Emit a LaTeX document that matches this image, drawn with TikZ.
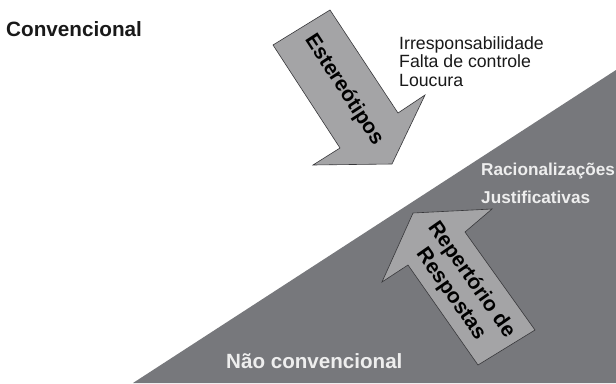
\documentclass[tikz,border=0pt]{standalone}
\usepackage{fontspec}
\setmainfont{Liberation Sans}
\definecolor{darkregion}{RGB}{119,120,124}
\definecolor{arrowfill}{RGB}{164,164,166}
\definecolor{arrowline}{RGB}{55,55,58}
\definecolor{lighttext}{RGB}{238,238,238}
\definecolor{darktext}{RGB}{25,25,25}
\begin{document}
\begin{tikzpicture}[x=1pt,y=-1pt,
  bigarrow/.style={fill=arrowfill, draw=arrowline, line width=0.6pt, line join=miter},
  headlbl/.style={inner sep=0pt, font=\fontsize{20.7}{24}\selectfont\bfseries, text=darktext},
  listlbl/.style={inner sep=0pt, anchor=base west, font=\fontsize{17.7}{18.5}\selectfont, text=darktext},
  lightlbl/.style={inner sep=0pt, font=\fontsize{17.2}{20}\selectfont\bfseries, text=lighttext},
  bottomlbl/.style={inner sep=0pt, font=\fontsize{20.6}{24}\selectfont\bfseries, text=lighttext},
  arrowlbl/.style={inner sep=0pt, font=\fontsize{21}{25}\selectfont\bfseries, text=black, align=center}]
\useasboundingbox (0,0) rectangle (616,383);
\fill[white] (0,0) rectangle (616,383);
% dark lower-right region
\fill[darkregion] (133,383) -- (616,70) -- (616,383) -- cycle;
% Estereotipos arrow (pointing down-right)
\draw[bigarrow] (273,45) -- (330,10) -- (398,113) -- (425,95) -- (392,164) -- (313,165) -- (340,148) -- cycle;
% Repertorio arrow (pointing up-left)
\draw[bigarrow] (478,365) -- (535,330) -- (465,232) -- (492,209) -- (413,213) -- (382,282) -- (408,265) -- cycle;
% labels
\node[headlbl, anchor=base west] (conv) at (6,36.7) {Convencional};
\node[listlbl] (l1) at (399,49) {Irresponsabilidade};
\node[listlbl] (l2) at (399,67.2) {Falta de controle};
\node[listlbl] (l3) at (399,86) {Loucura};
\node[lightlbl, anchor=base west] (rac) at (481,175.5) {Racionalizações};
\node[lightlbl, anchor=base west] (just) at (481,203.3) {Justificativas};
\node[bottomlbl, anchor=base west] (naoconv) at (226,368) {Não convencional};
\node[arrowlbl, rotate=-57] (ester) at (344,90) {Estereótipos};
\node[arrowlbl, rotate=-55] (rep) at (461,287) {Repertório de\\Respostas};
\end{tikzpicture}
\end{document}
